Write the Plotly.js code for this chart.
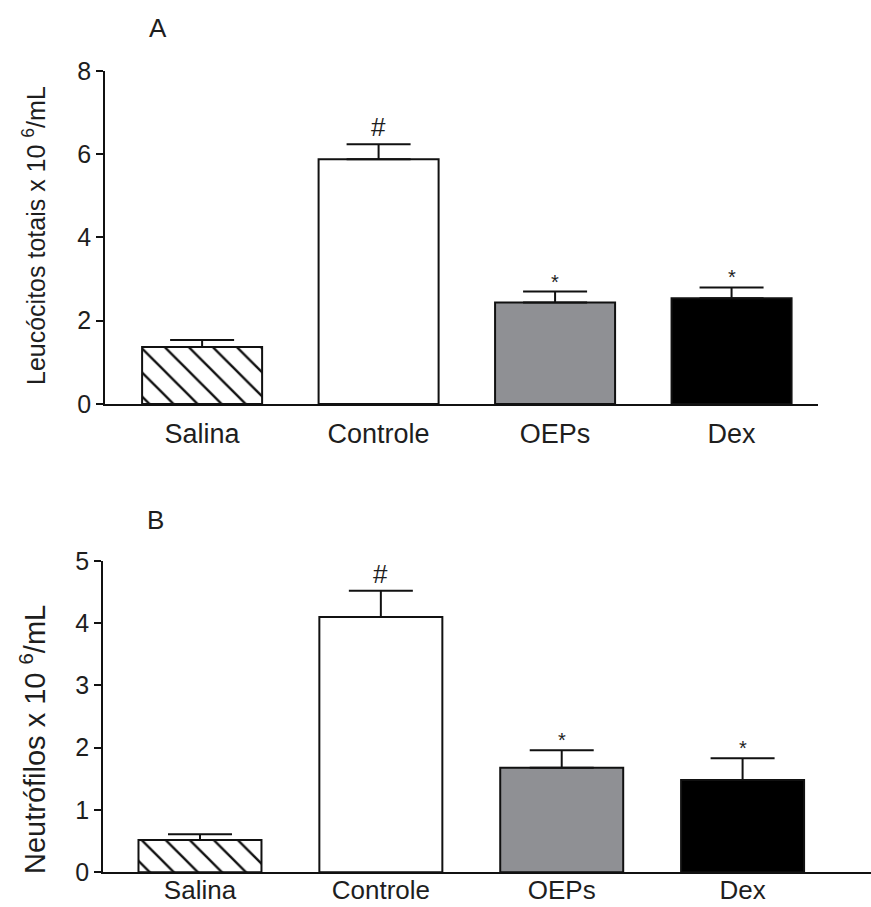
<!DOCTYPE html>
<html>
<head>
<meta charset="utf-8">
<script src="https://cdn.plot.ly/plotly-3.0.1.min.js"></script>
<style>html,body{margin:0;padding:0;background:#fff;}#chart{width:871px;height:907px;}</style>
</head>
<body>
<div id="chart"></div>
<script>
// ---- data ----
const categories = ['Salina', 'Controle', 'OEPs', 'Dex'];
const leucocitos = [1.37, 5.88, 2.44, 2.54];
const leucocitosErr = [0.17, 0.36, 0.26, 0.26];
const neutrofilos = [0.52, 4.10, 1.68, 1.48];
const neutrofilosErr = [0.09, 0.42, 0.28, 0.35];
const significance = ['', '#', '*', '*'];
const ticksA = [0, 2, 4, 6, 8];
const ticksB = [0, 1, 2, 3, 4, 5];
const titleA = 'Leucócitos totais x 10 <sup>6</sup>/mL';
const titleB = 'Neutrófilos x 10 <sup>6</sup>/mL';

// ---- styles ----
const fills = ['#ffffff', '#ffffff', '#8f9094', '#000000'];
const hatched = [true, false, false, false];
const FONT = 'Liberation Sans, Arial, sans-serif';
const TXT = '#1e1e1e';

function barTraces(vals, errs, xa, ya, capw) {
  const idxPlain = categories.map((c, i) => i).filter(i => !hatched[i]);
  const idxHatch = categories.map((c, i) => i).filter(i => hatched[i]);
  const pick = (arr, idx) => idx.map(i => arr[i]);
  const common = {type: 'bar', xaxis: xa, yaxis: ya, width: 0.68, showlegend: false, hoverinfo: 'skip'};
  return [
    Object.assign({}, common, {
      x: pick(categories, idxPlain), y: pick(vals, idxPlain),
      marker: {color: pick(fills, idxPlain), line: {color: '#111', width: 2}},
      error_y: {type: 'data', symmetric: false, array: pick(errs, idxPlain),
                arrayminus: idxPlain.map(() => 0), color: '#111', thickness: 2, width: capw}
    }),
    Object.assign({}, common, {
      x: pick(categories, idxHatch), y: pick(vals, idxHatch),
      marker: {color: '#ffffff', line: {color: '#111', width: 2},
               pattern: {shape: '\\', fgcolor: '#111', bgcolor: '#ffffff', size: 17, solidity: 0.14}},
      error_y: {type: 'data', symmetric: false, array: pick(errs, idxHatch),
                arrayminus: idxHatch.map(() => 0), color: '#111', thickness: 2, width: capw}
    })
  ];
}

function sigAnnots(vals, errs, xa, ya) {
  return categories.map((c, i) => ({
    x: c, y: vals[i] + errs[i], xref: xa, yref: ya,
    text: significance[i], showarrow: false, yanchor: 'bottom',
    yshift: significance[i] === '#' ? 0 : -3,
    font: {family: FONT, size: significance[i] === '#' ? 26 : 20, color: TXT}
  })).filter(a => a.text !== '');
}

const axisCommon = {
  showgrid: false, zeroline: false, showline: true, linecolor: '#111', linewidth: 2,
  tickfont: {family: FONT, size: 25, color: TXT}
};

const layout = {
  width: 871, height: 907,
  margin: {l: 0, r: 0, t: 0, b: 0},
  paper_bgcolor: '#fff', plot_bgcolor: '#fff',
  barmode: 'overlay',
  xaxis: Object.assign({}, axisCommon, {
    domain: [0.1206, 0.9392], anchor: 'y', type: 'category', range: [-0.55, 3.49],
    categoryorder: 'array', categoryarray: categories,
    ticks: '', ticklabelstandoff: 5, tickfont: {family: FONT, size: 27, color: TXT}
  }),
  yaxis: Object.assign({}, axisCommon, {
    domain: [0.5546, 0.9217], anchor: 'x', range: [0, 8], tickvals: ticksA,
    ticks: 'outside', ticklen: 7, tickwidth: 2, tickcolor: '#111'
  }),
  xaxis2: Object.assign({}, axisCommon, {
    domain: [0.1183, 1.0], anchor: 'y2', type: 'category', range: [-0.536, 3.71],
    categoryorder: 'array', categoryarray: categories,
    ticks: '', ticklabelstandoff: -6, tickfont: {family: FONT, size: 26, color: TXT}
  }),
  yaxis2: Object.assign({}, axisCommon, {
    domain: [0.0383, 0.3815], anchor: 'x2', range: [0, 5], tickvals: ticksB,
    ticks: 'outside', ticklen: 7, tickwidth: 2, tickcolor: '#111'
  }),
  annotations: [
    {text: 'A', x: 158 / 871, y: 1 - 28 / 907, xref: 'paper', yref: 'paper', showarrow: false,
     xanchor: 'center', yanchor: 'middle', font: {family: FONT, size: 26, color: TXT}},
    {text: 'B', x: 155 / 871, y: 1 - 520 / 907, xref: 'paper', yref: 'paper', showarrow: false,
     xanchor: 'center', yanchor: 'middle', font: {family: FONT, size: 26, color: TXT}},
    {text: titleA, x: 34 / 871, y: 1 - 236 / 907, xref: 'paper', yref: 'paper', showarrow: false,
     textangle: -90, xanchor: 'center', yanchor: 'middle', font: {family: FONT, size: 25, color: TXT}},
    {text: titleB, x: 33 / 871, y: 1 - 740 / 907, xref: 'paper', yref: 'paper', showarrow: false,
     textangle: -90, xanchor: 'center', yanchor: 'middle', font: {family: FONT, size: 29, color: TXT}}
  ].concat(sigAnnots(leucocitos, leucocitosErr, 'x', 'y'))
   .concat(sigAnnots(neutrofilos, neutrofilosErr, 'x2', 'y2'))
};

const data = barTraces(leucocitos, leucocitosErr, 'x', 'y', 32)
  .concat(barTraces(neutrofilos, neutrofilosErr, 'x2', 'y2', 32));

Plotly.newPlot('chart', data, layout, {staticPlot: true});
</script>
</body>
</html>
